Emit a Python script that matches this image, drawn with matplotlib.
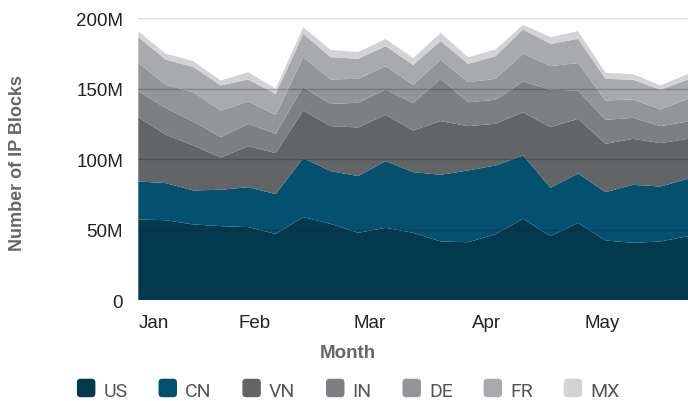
import numpy as np
import matplotlib
matplotlib.use("Agg")
import matplotlib.pyplot as plt
from matplotlib.patches import FancyBboxPatch
from matplotlib.legend_handler import HandlerPatch

plt.rcParams['font.family'] = ['Liberation Sans', 'DejaVu Sans']

# weekly values, millions of IP blocks
weeks = np.arange(21)
us = [57.1, 56.6, 53.6, 52.4, 51.7, 46.9, 58.8, 54.0, 47.7, 51.2, 47.7,
      41.5, 41.0, 46.7, 57.6, 45.3, 54.8, 42.2, 40.6, 41.5, 45.3]
cn = [27.0, 26.3, 24.1, 25.8, 28.3, 28.2, 41.8, 37.4, 40.2, 47.3, 43.0,
      47.3, 50.9, 48.7, 44.9, 34.3, 34.9, 34.3, 41.1, 39.0, 40.7]
vn = [45.6, 34.3, 31.9, 22.9, 29.1, 29.1, 33.8, 31.9, 34.5, 32.8, 29.5,
      38.1, 31.4, 29.6, 30.7, 43.0, 38.8, 34.3, 32.6, 30.8, 28.3]
in_ = [18.4, 18.9, 17.0, 14.4, 15.9, 13.7, 16.6, 15.8, 17.5, 18.0, 19.4,
       30.0, 17.0, 17.0, 21.8, 26.5, 20.1, 17.0, 14.9, 12.0, 12.3]
de = [20.1, 16.5, 20.8, 18.9, 15.8, 13.4, 21.2, 17.3, 17.0, 16.6, 13.0,
      13.5, 14.2, 14.9, 19.6, 16.8, 19.4, 13.7, 13.0, 11.8, 16.1]
fr = [18.2, 18.0, 17.8, 17.8, 15.6, 14.9, 16.6, 15.8, 14.2, 14.1, 14.2,
      13.2, 13.0, 16.1, 17.3, 15.8, 17.2, 15.4, 14.0, 14.0, 13.7]
mx = [4.3, 4.0, 4.2, 3.5, 5.2, 3.6, 4.7, 5.2, 4.7, 5.2, 4.7,
      5.9, 4.7, 4.7, 3.3, 4.7, 5.5, 4.2, 4.0, 3.1, 4.0]

countries = ['US', 'CN', 'VN', 'IN', 'DE', 'FR', 'MX']
colors = ['#03394f', '#03506f', '#636466', '#7e7f82', '#949598', '#a9aaad', '#d2d3d5']

month_labels = ['Jan', 'Feb', 'Mar', 'Apr', 'May']
month_pos = [0.55, 4.24, 8.41, 12.67, 16.86]
yticks = [0, 50, 100, 150, 200]

fig = plt.figure(figsize=(6.88, 4.02), dpi=100)
ax = fig.add_axes([0.201, 0.2512, 0.799, 0.7015])

ax.stackplot(weeks, us, cn, vn, in_, de, fr, mx, colors=colors, lw=0)

ax.set_xlim(0, 20)
ax.set_ylim(0, 200)
ax.set_yticks(yticks)
ax.set_yticklabels(['0' if v == 0 else f'{v}M' for v in yticks])
ax.set_xticks(month_pos)
ax.set_xticklabels(month_labels)
ax.tick_params(length=0, labelsize=13.5, labelcolor='#222222')
ax.tick_params(axis='y', pad=11)
ax.tick_params(axis='x', pad=10)
for s in ax.spines.values():
    s.set_visible(False)

ax.set_axisbelow(False)
ax.yaxis.grid(True, color='#222222', alpha=0.28, lw=1, zorder=5)
ax.get_ygridlines()[0].set_visible(False)
ax.get_ygridlines()[-1].set_alpha(0.15)

fig.text(0.025, 0.595, 'Number of IP Blocks', rotation=90, ha='center', va='center',
         fontsize=13, fontweight='bold', color='#666666')
fig.text(348 / 688, 1 - 353 / 402, 'Month', ha='center', va='center',
         fontsize=13.5, fontweight='bold', color='#666666')


class RoundBox(HandlerPatch):
    def create_artists(self, legend, orig, xd, yd, w, h, fs, trans):
        s = w * 0.95
        p = FancyBboxPatch((xd + (w - s) / 2, yd + (h - s) / 2), s, s,
                           boxstyle='round,pad=0,rounding_size=%f' % (s * 0.2),
                           fc=orig.get_facecolor(), ec='none', transform=trans)
        return [p]


handles = [plt.Rectangle((0, 0), 1, 1, fc=c) for c in colors]
leg = fig.legend(handles, countries, loc='center', bbox_to_anchor=(0.506, 1 - 392 / 402),
                 ncol=7, frameon=False, prop={'family': 'Roboto', 'size': 14},
                 handlelength=1.0, handleheight=0.8,
                 handletextpad=0.4, columnspacing=1.55,
                 handler_map={plt.Rectangle: RoundBox()})
for t in leg.get_texts():
    t.set_color('#555555')

fig.savefig('out.png', dpi=100)
